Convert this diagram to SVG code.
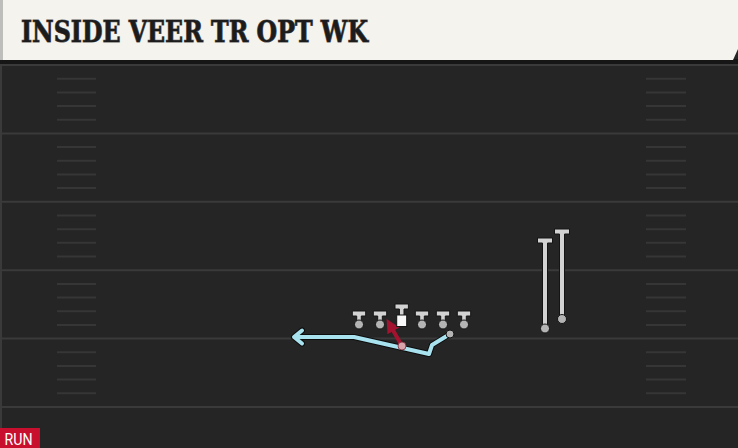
<svg xmlns="http://www.w3.org/2000/svg" width="738" height="448" viewBox="0 0 738 448">
  <defs>
    <style>
      .yard { stroke: #3a3a3a; stroke-width: 2; }
      .hash { stroke: #363636; stroke-width: 2; }
      .tee { fill: #d2d2d2; stroke: #141414; stroke-width: 1; stroke-linejoin: miter; }
      .dot { fill: #b4b4b4; stroke: #141414; stroke-width: 1; }
      .route-bg { fill: none; stroke: #0d0d0d; stroke-width: 6; stroke-linejoin: round; stroke-linecap: round; }
      .route { fill: none; stroke: #a8e2ef; stroke-width: 4; stroke-linejoin: round; stroke-linecap: round; }
      .block { fill: none; stroke: #a3132f; stroke-width: 4; }
    </style>
    <marker id="redHead" viewBox="0 0 10 10" refX="5" refY="5" markerWidth="3.4" markerHeight="3.4" orient="auto" markerUnits="strokeWidth">
      <path d="M0,0 L10,5 L0,10 z" fill="#a3132f"/>
    </marker>
  </defs>

  <!-- field -->
  <rect x="0" y="0" width="738" height="448" fill="#252525"/>
  <rect x="0" y="60" width="2" height="388" fill="#3a3a3a"/>

  <g id="field-lines">
    <line class="yard" x1="0" y1="65" x2="738" y2="65"/>
    <line class="yard" x1="0" y1="133.4" x2="738" y2="133.4"/>
    <line class="yard" x1="0" y1="201.8" x2="738" y2="201.8"/>
    <line class="yard" x1="0" y1="270.2" x2="738" y2="270.2"/>
    <line class="yard" x1="0" y1="338.6" x2="738" y2="338.6"/>
    <line class="yard" x1="0" y1="407" x2="738" y2="407"/>
    <g id="hashes-left">
      <line class="hash" x1="57" y1="78.7" x2="96" y2="78.7"/>
      <line class="hash" x1="57" y1="92.4" x2="96" y2="92.4"/>
      <line class="hash" x1="57" y1="106" x2="96" y2="106"/>
      <line class="hash" x1="57" y1="119.7" x2="96" y2="119.7"/>
      <line class="hash" x1="57" y1="147.1" x2="96" y2="147.1"/>
      <line class="hash" x1="57" y1="160.8" x2="96" y2="160.8"/>
      <line class="hash" x1="57" y1="174.4" x2="96" y2="174.4"/>
      <line class="hash" x1="57" y1="188.1" x2="96" y2="188.1"/>
      <line class="hash" x1="57" y1="215.5" x2="96" y2="215.5"/>
      <line class="hash" x1="57" y1="229.2" x2="96" y2="229.2"/>
      <line class="hash" x1="57" y1="242.8" x2="96" y2="242.8"/>
      <line class="hash" x1="57" y1="256.5" x2="96" y2="256.5"/>
      <line class="hash" x1="57" y1="283.9" x2="96" y2="283.9"/>
      <line class="hash" x1="57" y1="297.6" x2="96" y2="297.6"/>
      <line class="hash" x1="57" y1="311.2" x2="96" y2="311.2"/>
      <line class="hash" x1="57" y1="324.9" x2="96" y2="324.9"/>
      <line class="hash" x1="57" y1="352.3" x2="96" y2="352.3"/>
      <line class="hash" x1="57" y1="366" x2="96" y2="366"/>
      <line class="hash" x1="57" y1="379.6" x2="96" y2="379.6"/>
      <line class="hash" x1="57" y1="393.3" x2="96" y2="393.3"/>
    </g>
    <g id="hashes-right">
      <line class="hash" x1="646" y1="78.7" x2="686" y2="78.7"/>
      <line class="hash" x1="646" y1="92.4" x2="686" y2="92.4"/>
      <line class="hash" x1="646" y1="106" x2="686" y2="106"/>
      <line class="hash" x1="646" y1="119.7" x2="686" y2="119.7"/>
      <line class="hash" x1="646" y1="147.1" x2="686" y2="147.1"/>
      <line class="hash" x1="646" y1="160.8" x2="686" y2="160.8"/>
      <line class="hash" x1="646" y1="174.4" x2="686" y2="174.4"/>
      <line class="hash" x1="646" y1="188.1" x2="686" y2="188.1"/>
      <line class="hash" x1="646" y1="215.5" x2="686" y2="215.5"/>
      <line class="hash" x1="646" y1="229.2" x2="686" y2="229.2"/>
      <line class="hash" x1="646" y1="242.8" x2="686" y2="242.8"/>
      <line class="hash" x1="646" y1="256.5" x2="686" y2="256.5"/>
      <line class="hash" x1="646" y1="283.9" x2="686" y2="283.9"/>
      <line class="hash" x1="646" y1="297.6" x2="686" y2="297.6"/>
      <line class="hash" x1="646" y1="311.2" x2="686" y2="311.2"/>
      <line class="hash" x1="646" y1="324.9" x2="686" y2="324.9"/>
      <line class="hash" x1="646" y1="352.3" x2="686" y2="352.3"/>
      <line class="hash" x1="646" y1="366" x2="686" y2="366"/>
      <line class="hash" x1="646" y1="379.6" x2="686" y2="379.6"/>
      <line class="hash" x1="646" y1="393.3" x2="686" y2="393.3"/>
    </g>
  </g>

  <!-- title bar -->
  <g id="title">
    <rect x="0" y="59" width="738" height="5" fill="#161616"/>
    <path d="M0,0 H738 V49 L733,60 H0 Z" fill="#f5f3ed"/>
    <rect x="0" y="0" width="3" height="60" fill="#bdbdbb"/>
    <text x="21" y="42" font-family="'DejaVu Serif', serif" font-weight="bold" font-stretch="condensed" font-size="29" fill="#1c1c1c" stroke="#5e5e5e" stroke-width="1" paint-order="stroke" textLength="347" lengthAdjust="spacingAndGlyphs">INSIDE VEER TR OPT WK</text>
  </g>

  <!-- connectors -->
  <g id="connectors">
    <path class="route-bg" d="M450,334 L432,345 L429,354 L354,337 L295,337"/>
    <path class="route-bg" d="M302,330.5 L294,337 L302,343.5"/>
    <path class="route" d="M450,334 L432,345 L429,354 L354,337 L295,337"/>
    <path class="route" d="M302,330.5 L294,337 L302,343.5"/>
    <line class="block" x1="402" y1="346" x2="390" y2="325" marker-end="url(#redHead)"/>
  </g>

  <!-- players -->
  <g id="lt">
    <path class="tee" d="M352.3,311 H365.7 V316 H361.3 V321.5 H356.7 V316 H352.3 Z"/>
    <circle class="dot" cx="359" cy="324.5" r="4.5"/>
  </g>
  <g id="lg">
    <path class="tee" d="M373.3,311 H386.7 V316 H382.3 V321.5 H377.7 V316 H373.3 Z"/>
    <circle class="dot" cx="380" cy="324.5" r="4.5"/>
  </g>
  <g id="c">
    <path class="tee" d="M395,304 H408.4 V309 H404 V316 H399.4 V309 H395 Z"/>
    <rect x="396.7" y="315" width="10" height="11.5" fill="#f8f8f8" stroke="#141414" stroke-width="1"/>
  </g>
  <g id="rg">
    <path class="tee" d="M415.3,311 H428.7 V316 H424.3 V321.5 H419.7 V316 H415.3 Z"/>
    <circle class="dot" cx="422" cy="324.5" r="4.5"/>
  </g>
  <g id="rt">
    <path class="tee" d="M436.3,311 H449.7 V316 H445.3 V321.5 H440.7 V316 H436.3 Z"/>
    <circle class="dot" cx="443" cy="324.5" r="4.5"/>
  </g>
  <g id="te">
    <path class="tee" d="M457.3,311 H470.7 V316 H466.3 V321.5 H461.7 V316 H457.3 Z"/>
    <circle class="dot" cx="464" cy="324.5" r="4.5"/>
  </g>
  <g id="wing">
    <circle class="dot" cx="450" cy="334" r="4"/>
  </g>
  <g id="qb">
    <circle cx="402" cy="346" r="4" fill="#d9a3ac" stroke="#7a2a38" stroke-width="0.8"/>
  </g>
  <g id="wr1">
    <path class="tee" d="M537.5,238 H552.5 V243 H547.5 V326 H542.5 V243 H537.5 Z"/>
    <circle class="dot" cx="545" cy="328.5" r="4.5"/>
  </g>
  <g id="wr2">
    <path class="tee" d="M554.5,229 H569.5 V234 H564.5 V316 H559.5 V234 H554.5 Z"/>
    <circle class="dot" cx="562" cy="319" r="4.5"/>
  </g>

  <!-- run tag -->
  <g id="run-tag">
    <rect x="0" y="428" width="40" height="20" fill="#c8102e"/>
    <text x="4.5" y="445" font-family="Roboto, 'Liberation Sans', sans-serif" font-size="16" fill="#ffffff" textLength="28" lengthAdjust="spacingAndGlyphs">RUN</text>
  </g>
</svg>
